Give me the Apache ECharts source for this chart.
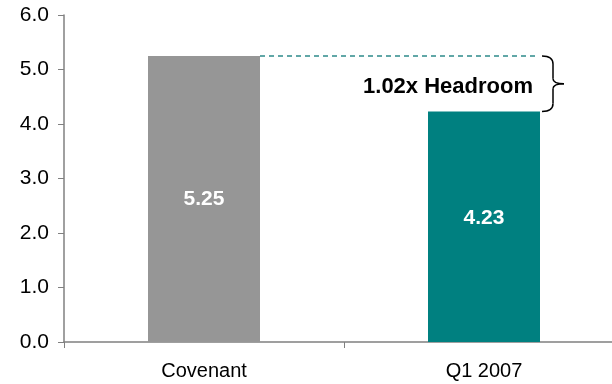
<!DOCTYPE html>
<html><head><meta charset="utf-8">
<script src="https://cdn.jsdelivr.net/npm/echarts@6/dist/echarts.min.js"></script>
<style>html,body{margin:0;padding:0;background:#fff;overflow:hidden}#c{width:624px;height:384px}</style>
</head><body><div id="c"></div>
<script>
const categories = ['Covenant', 'Q1 2007'];
const values = [5.25, 4.23];
const barColors = ['#969696', '#008080'];
const headroomLabel = '1.02x Headroom';
const yTicks = [0, 1, 2, 3, 4, 5, 6];

const chart = echarts.init(document.getElementById('c'), null, {renderer: 'canvas'});
const font = 'Arial, "Liberation Sans", sans-serif';
const labelOffsets = [[0, 0], [0, -9]];
const option = {
  animation: false,
  grid: {left: 64, right: 0, top: 15, bottom: 42, containLabel: false},
  xAxis: {
    type: 'category', data: categories,
    axisLine: {lineStyle: {color: '#808080', width: 1.5}},
    axisTick: {show: true, length: 6, lineStyle: {color: '#808080'}},
    axisLabel: {color: '#000', fontSize: 20, fontFamily: font, margin: 19}
  },
  yAxis: {
    type: 'value', min: yTicks[0], max: yTicks[yTicks.length - 1], interval: 1,
    axisLine: {show: true, lineStyle: {color: '#808080', width: 1.5}},
    axisTick: {show: true, length: 6, lineStyle: {color: '#808080'}},
    splitLine: {show: false},
    axisLabel: {color: '#000', fontSize: 21, fontFamily: font, margin: 15, formatter: v => v.toFixed(1)}
  },
  series: [{
    type: 'bar', barWidth: '40%',
    data: values.map((v, i) => ({value: v, itemStyle: {color: barColors[i]}, label: {offset: labelOffsets[i]}})),
    label: {show: true, position: 'inside', color: '#fff', fontWeight: 'bold', fontSize: 21, fontFamily: font,
      formatter: p => p.value.toFixed(2)}
  }]
};
chart.setOption(option);

function drawAnnot() {
  const p0 = chart.convertToPixel({seriesIndex: 0}, [0, values[0]]);
  const p1 = chart.convertToPixel({seriesIndex: 0}, [1, values[1]]);
  const bw = chart.getModel().getSeriesByIndex(0).getData().getLayout('size') || 112;
  const x0 = p0[0] + bw / 2;
  const x1 = p1[0] + bw / 2;
  const yTop = p0[1], yBot = p1[1], yMid = (yTop + yBot) / 2;
  const bx = x1 + 2, bx2 = bx + 11, tip = bx2 + 11;
  const st = {stroke: '#000', lineWidth: 1.5, fill: null};
  chart.setOption({graphic: [
    {type: 'line', shape: {x1: x0, y1: yTop, x2: x1 - 4, y2: yTop}, style: {stroke: '#2e8b8b', lineWidth: 1.5, lineDash: [5, 4]}},
    {type: 'bezierCurve', shape: {x1: bx, y1: yTop, cpx1: bx2, cpy1: yTop, x2: bx2, y2: yTop + 8}, style: st},
    {type: 'line', shape: {x1: bx2, y1: yTop + 8, x2: bx2, y2: yMid - 5}, style: st},
    {type: 'bezierCurve', shape: {x1: bx2, y1: yMid - 5, cpx1: bx2, cpy1: yMid, x2: tip, y2: yMid}, style: st},
    {type: 'bezierCurve', shape: {x1: tip, y1: yMid, cpx1: bx2, cpy1: yMid, x2: bx2, y2: yMid + 5}, style: st},
    {type: 'line', shape: {x1: bx2, y1: yMid + 5, x2: bx2, y2: yBot - 8}, style: st},
    {type: 'bezierCurve', shape: {x1: bx2, y1: yBot - 8, cpx1: bx2, cpy1: yBot, x2: bx, y2: yBot}, style: st},
    {type: 'text', x: x1 - 7, y: yMid + 3, style: {text: headroomLabel, font: 'bold 22px ' + font, fill: '#000', textAlign: 'right', textVerticalAlign: 'middle'}}
  ]});
}
drawAnnot();
</script>
</body></html>
